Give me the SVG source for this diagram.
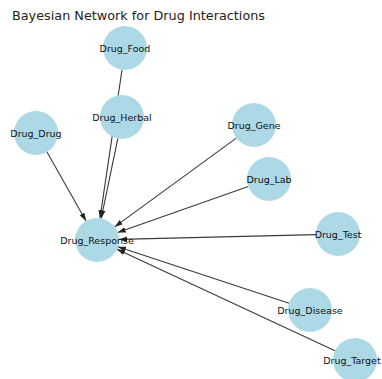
<svg xmlns="http://www.w3.org/2000/svg" width="382" height="379" viewBox="0 0 382 379">
<defs>
<marker id="arr" markerUnits="userSpaceOnUse" markerWidth="9" markerHeight="7" refX="8" refY="3.5" orient="auto">
<path d="M0,0.8 L8,3.5 L0,6.2 Z" fill="#222"/>
</marker>
<style>
.e{stroke:#3a3a3a;stroke-width:1.1;fill:none;marker-end:url(#arr)}
.n circle{fill:#add8e6}
.n text{font-family:"DejaVu Sans",sans-serif;font-size:9.5px;fill:#111;text-anchor:middle;dominant-baseline:central}
.t{font-family:"DejaVu Sans",sans-serif;font-size:12.8px;fill:#222}
</style>
</defs>
<rect width="382" height="379" fill="#fff"/>
<text class="t" x="12" y="20">Bayesian Network for Drug Interactions</text>
<g id="edges">
<line class="e" x1="122" y1="69.8" x2="100" y2="218.2"/>
<line class="e" x1="117.8" y1="138.6" x2="101.2" y2="218.4"/>
<line class="e" x1="47" y1="152" x2="86" y2="221"/>
<line class="e" x1="236.3" y1="138.1" x2="114.7" y2="226.9"/>
<line class="e" x1="248.3" y1="186.5" x2="117.7" y2="232.5"/>
<line class="e" x1="316" y1="234.6" x2="119" y2="239.4"/>
<line class="e" x1="289.1" y1="303.2" x2="117.9" y2="246.8"/>
<line class="e" x1="335" y1="350.8" x2="117" y2="249.2"/>
</g>
<g id="Drug_Food" class="n"><circle cx="125" cy="48" r="22"/><text x="125" y="48">Drug_Food</text></g>
<g id="Drug_Herbal" class="n"><circle cx="122" cy="117" r="22"/><text x="122" y="117">Drug_Herbal</text></g>
<g id="Drug_Drug" class="n"><circle cx="36" cy="133" r="22"/><text x="36" y="133">Drug_Drug</text></g>
<g id="Drug_Gene" class="n"><circle cx="254" cy="125" r="22"/><text x="254" y="125">Drug_Gene</text></g>
<g id="Drug_Lab" class="n"><circle cx="269" cy="179" r="22"/><text x="269" y="179">Drug_Lab</text></g>
<g id="Drug_Test" class="n"><circle cx="338" cy="234" r="22"/><text x="338" y="234">Drug_Test</text></g>
<g id="Drug_Response" class="n"><circle cx="97" cy="240" r="22"/><text x="97" y="240">Drug_Response</text></g>
<g id="Drug_Disease" class="n"><circle cx="310" cy="310" r="22"/><text x="310" y="310">Drug_Disease</text></g>
<g id="Drug_Target" class="n"><circle cx="355" cy="360" r="22"/><text x="352" y="360">Drug_Target</text></g>
</svg>
